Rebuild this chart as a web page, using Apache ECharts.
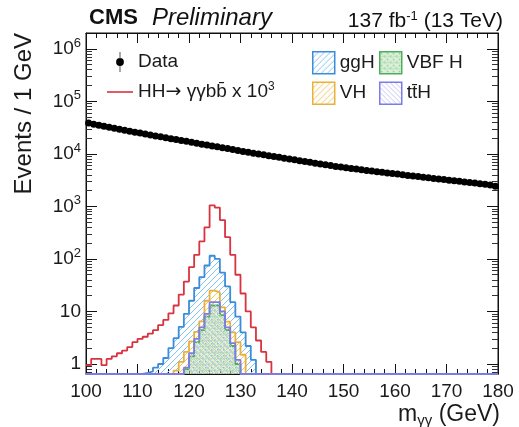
<!DOCTYPE html>
<html lang="en">
<head>
<meta charset="UTF-8">
<title>m_gg spectrum</title>
<script src="https://cdn.jsdelivr.net/npm/echarts@6/dist/echarts.min.js"></script>
<style>html,body{margin:0;padding:0;background:#fff;}</style>
</head>
<body>
<div id="main" style="width:519px;height:427px;"></div>
<script type="text/javascript">
// binning: 1 GeV bins from 100 to 180
var massLo = 100, massHi = 180;
var yMin = 0.645, yMax = 2.0e6;
var xTickStep = 10;

// data, one value per bin (100-101, 101-102, ...)
var dataCounts = [
  38500, 36700, 35100, 33400, 32000, 30600, 29500, 28100, 27000, 25900,
  24900, 23800, 22900, 21900, 21100, 20200, 19500, 18700, 17900, 17300,
  16600, 15900, 15300, 14700, 14100, 13600, 13100, 12600, 12100, 11600,
  11100, 10700, 10300, 9900, 9600, 9250, 8900, 8600, 8250, 7950,
  7700, 7400, 7150, 6900, 6650, 6400, 6200, 5980, 5780, 5600,
  5450, 5280, 5130, 4980, 4840, 4720, 4590, 4460, 4330, 4220,
  4120, 4000, 3890, 3790, 3690, 3590, 3500, 3410, 3320, 3240,
  3160, 3080, 3000, 2920, 2850, 2780, 2710, 2640, 2560, 2420
];

// HH signal x 1000, first bin at hhStart
var hhStart = 100;
var hhVals = [0.95, 1.25, 1.25, 0.95, 1.25, 1.4, 1.6, 1.8, 2.1, 2.6,
  3.0, 3.3, 3.8, 4.4, 5.5, 6.9, 9.2, 13, 21, 37,
  70, 120, 215, 400, 1050, 950, 550, 260, 120, 50,
  22, 10, 5, 2.8, 1.7, 1.1];

var gghStart = 111;
var gghVals = [0.68, 0.72, 0.85, 1.0, 1.3, 2.0, 3.1, 5.1, 9, 16,
  28, 45, 75, 115, 100, 55, 30, 15, 8, 4, 2.2, 1.2];

var vhStart = 117;
var vhVals = [0.75, 1.1, 1.7, 2.7, 4.1, 6.5, 16, 25, 23, 12, 6.4, 4, 2.6, 1.5];

var vbfStart = 119;
var vbfVals = [0.8, 1.4, 2.6, 4.4, 8, 13, 13, 8.5, 4.4, 2.2, 1.0];

var tthStart = 119;
var tthVals = [0.85, 1.6, 3, 5, 9, 15, 15, 10, 5, 2.5, 1.2];

var FONT = '"Liberation Sans", Arial, Helvetica, sans-serif';

// step points for a histogram; empty bins sit on the floor of the plot
function histPoints(start, vals) {
  var pts = [];
  for (var m = massLo; m < massHi; m++) {
    var v = vals[m - start];
    pts.push([m, v > 0 ? v : yMin]);
  }
  pts.push([massHi, pts[pts.length - 1][1]]);
  return pts;
}

function hatch(color, step, back) {
  var c = document.createElement('canvas');
  c.width = step; c.height = step;
  var g = c.getContext('2d');
  g.strokeStyle = color;
  g.lineWidth = 1;
  g.beginPath();
  for (var k = -1; k <= 1; k++) {
    if (back) { g.moveTo(k * step, 0); g.lineTo(k * step + step, step); }
    else { g.moveTo(k * step, step); g.lineTo(k * step + step, 0); }
  }
  g.stroke();
  return { image: c, repeat: 'repeat' };
}

function dots(bg, color, lineColor) {
  var c = document.createElement('canvas');
  c.width = 6; c.height = 6;
  var g = c.getContext('2d');
  g.fillStyle = bg;
  g.fillRect(0, 0, 6, 6);
  g.fillStyle = color;
  g.fillRect(1, 1, 1.5, 1.5);
  g.fillRect(4, 4, 1.5, 1.5);
  g.strokeStyle = lineColor;
  g.beginPath(); g.moveTo(0, 5.5); g.lineTo(6, 3.5); g.stroke();
  return { image: c, repeat: 'repeat' };
}

var cGGH = '#3b8ddb', cVH = '#e9b13c', cVBF = '#4eae5a', cTTH = '#7c7ce6', cHH = '#d8333f';
var fGGH = hatch('#86c4f0', 6, false);
var fVH = hatch('#f0c860', 6, false);
var fVBF = dots('rgba(190,228,190,0.55)', '#8fcc8f', '#b5dfb5');
var fTTH = hatch('#c4c4f2', 5, true);

var dataPts = dataCounts.map(function (v, i) { return [massLo + i + 0.5, v]; });

var labelNames = {
  'Data': 'Data',
  'HH': 'HH{a|\u2192} \u03b3\u03b3bb\u0304 x 10{s|3}',
  'ggH': 'ggH', 'VH': 'VH', 'VBF H': 'VBF H', 'ttH': 'tt\u0304H'
};
var legendText = {
  fontSize: 19, fontFamily: FONT, color: '#1a1a1a', lineHeight: 22,
  rich: {
    s: { fontSize: 12, lineHeight: 12, verticalAlign: 'top', fontFamily: FONT, color: '#1a1a1a' },
    a: { fontSize: 19, lineHeight: 22, fontFamily: '"DejaVu Sans", sans-serif', color: '#1a1a1a' }
  }
};
function legendFmt(n) { return labelNames[n]; }

var myChart = echarts.init(document.getElementById('main'), null, { renderer: 'canvas' });

function logLabel(v) {
  var l = Math.log10(v), p = Math.round(l);
  if (Math.abs(l - p) > 1e-6) return '';
  if (p === 0) return '1';
  if (p === 1) return '10';
  return '10{s|' + p + '}';
}

var yAxisBase = {
  type: 'log', min: yMin, max: yMax, splitNumber: 6,
  axisLine: { show: true, lineStyle: { color: '#111', width: 1 } },
  axisTick: { show: true, inside: true, length: 11, lineStyle: { color: '#111' } },
  minorTick: { show: true, splitNumber: 9, length: 6, lineStyle: { color: '#333', width: 1 } },
  splitLine: { show: false }
};
var xAxisBase = {
  type: 'value', min: massLo, max: massHi, interval: xTickStep,
  axisLine: { show: true, onZero: false, lineStyle: { color: '#111', width: 1 } },
  axisTick: { show: true, inside: true, length: 10, lineStyle: { color: '#111' } },
  minorTick: { show: true, splitNumber: 5, length: 5, lineStyle: { color: '#111' } },
  splitLine: { show: false }
};

myChart.setOption({
  animation: false,
  backgroundColor: '#fff',
  title: [
    {
      text: '{b|CMS}{i|Preliminary}', left: 84, top: 1,
      textStyle: { rich: {
        b: { fontSize: 22, fontWeight: 'bold', fontFamily: FONT, color: '#111' },
        i: { fontSize: 24, fontWeight: 'normal', fontStyle: 'italic', fontFamily: FONT, color: '#111', padding: [0, 0, 0, 14] }
      } }
    },
    {
      text: '137 fb{s|-1} (13 TeV)', right: 11, top: 5,
      textStyle: { fontSize: 21, fontWeight: 'normal', fontFamily: FONT, color: '#111', lineHeight: 22,
        rich: { s: { fontSize: 13, lineHeight: 12, verticalAlign: 'top', fontFamily: FONT, color: '#111' } } }
    }
  ],
  grid: { left: 86, right: 21, top: 33, bottom: 53, show: true, borderColor: '#111', borderWidth: 1 },
  legend: [
    {
      orient: 'vertical', left: 102, top: 46, itemWidth: 26, itemHeight: 20, itemGap: 8,
      data: [
        { name: 'Data', icon: 'path://M3.2,0H3.8V18H3.2Z M0,9A3.5,3.5 0 1 1 7,9A3.5,3.5 0 1 1 0,9Z', itemStyle: { color: '#000' } },
        { name: 'HH', icon: 'path://M0,0H26V1.6H0Z', itemStyle: { color: cHH } }
      ],
      formatter: legendFmt, textStyle: legendText
    },
    {
      orient: 'vertical', left: 307, top: 46, itemWidth: 22, itemHeight: 22, itemGap: 7,
      data: [
        { name: 'ggH', icon: 'rect', itemStyle: { color: fGGH, borderColor: cGGH, borderWidth: 1.5 } },
        { name: 'VH', icon: 'rect', itemStyle: { color: fVH, borderColor: cVH, borderWidth: 1.5 } }
      ],
      formatter: legendFmt, textStyle: legendText
    },
    {
      orient: 'vertical', left: 374, top: 46, itemWidth: 22, itemHeight: 22, itemGap: 7,
      data: [
        { name: 'VBF H', icon: 'rect', itemStyle: { color: fVBF, borderColor: cVBF, borderWidth: 1.5 } },
        { name: 'ttH', icon: 'rect', itemStyle: { color: fTTH, borderColor: cTTH, borderWidth: 1.5 } }
      ],
      formatter: legendFmt, textStyle: legendText
    }
  ],
  xAxis: [
    Object.assign({}, xAxisBase, {
      position: 'bottom',
      axisLabel: { fontSize: 19, fontFamily: FONT, color: '#1a1a1a', margin: 8 }
    }),
    Object.assign({}, xAxisBase, { position: 'top', axisLabel: { show: false } })
  ],
  yAxis: [
    Object.assign({}, yAxisBase, {
      position: 'left',
      axisLabel: {
        formatter: logLabel, showMinLabel: false, showMaxLabel: false,
        fontSize: 19, fontFamily: FONT, color: '#1a1a1a', margin: 5, lineHeight: 24,
        rich: { s: { fontSize: 13, lineHeight: 13, verticalAlign: 'top', fontFamily: FONT, color: '#1a1a1a' } }
      }
    }),
    Object.assign({}, yAxisBase, { position: 'right', axisLabel: { show: false } })
  ],
  graphic: [
    {
      type: 'text', x: 24, y: 33, rotation: Math.PI / 2,
      style: { text: 'Events / 1 GeV', fontSize: 24, fontFamily: FONT, fill: '#1a1a1a', align: 'right', verticalAlign: 'middle' }
    },
    {
      type: 'text', right: 19, top: 403,
      style: {
        text: '{m|m}{g|\u03b3\u03b3}{m| (GeV)}', fontFamily: FONT, fill: '#1a1a1a',
        rich: {
          m: { fontSize: 23, lineHeight: 27, fontFamily: FONT, color: '#1a1a1a' },
          g: { fontSize: 15, lineHeight: 15, verticalAlign: 'bottom', fontFamily: FONT, color: '#1a1a1a' }
        }
      }
    }
  ],
  series: [
    { name: 'HH', type: 'line', step: 'end', symbol: 'none', data: histPoints(hhStart, hhVals),
      lineStyle: { color: cHH, width: 1.8 }, itemStyle: { color: cHH }, z: 1 },
    { name: 'ggH', type: 'line', step: 'end', symbol: 'none', data: histPoints(gghStart, gghVals),
      lineStyle: { color: cGGH, width: 1.8 }, itemStyle: { color: cGGH }, areaStyle: { color: fGGH, opacity: 1 }, z: 2 },
    { name: 'VH', type: 'line', step: 'end', symbol: 'none', data: histPoints(vhStart, vhVals),
      lineStyle: { color: cVH, width: 1.8 }, itemStyle: { color: cVH }, areaStyle: { color: fVH, opacity: 1 }, z: 3 },
    { name: 'VBF H', type: 'line', step: 'end', symbol: 'none', data: histPoints(vbfStart, vbfVals),
      lineStyle: { color: cVBF, width: 1.8 }, itemStyle: { color: cVBF }, areaStyle: { color: fVBF, opacity: 1 }, z: 4 },
    { name: 'ttH', type: 'line', step: 'end', symbol: 'none', data: histPoints(tthStart, tthVals),
      lineStyle: { color: cTTH, width: 1.8 }, itemStyle: { color: cTTH }, areaStyle: { color: fTTH, opacity: 1 }, z: 5 },
    { name: 'Data', type: 'scatter', data: dataPts, symbol: 'circle', symbolSize: 7,
      itemStyle: { color: '#000', opacity: 1 }, z: 7 }
  ]
});
</script>
</body>
</html>
